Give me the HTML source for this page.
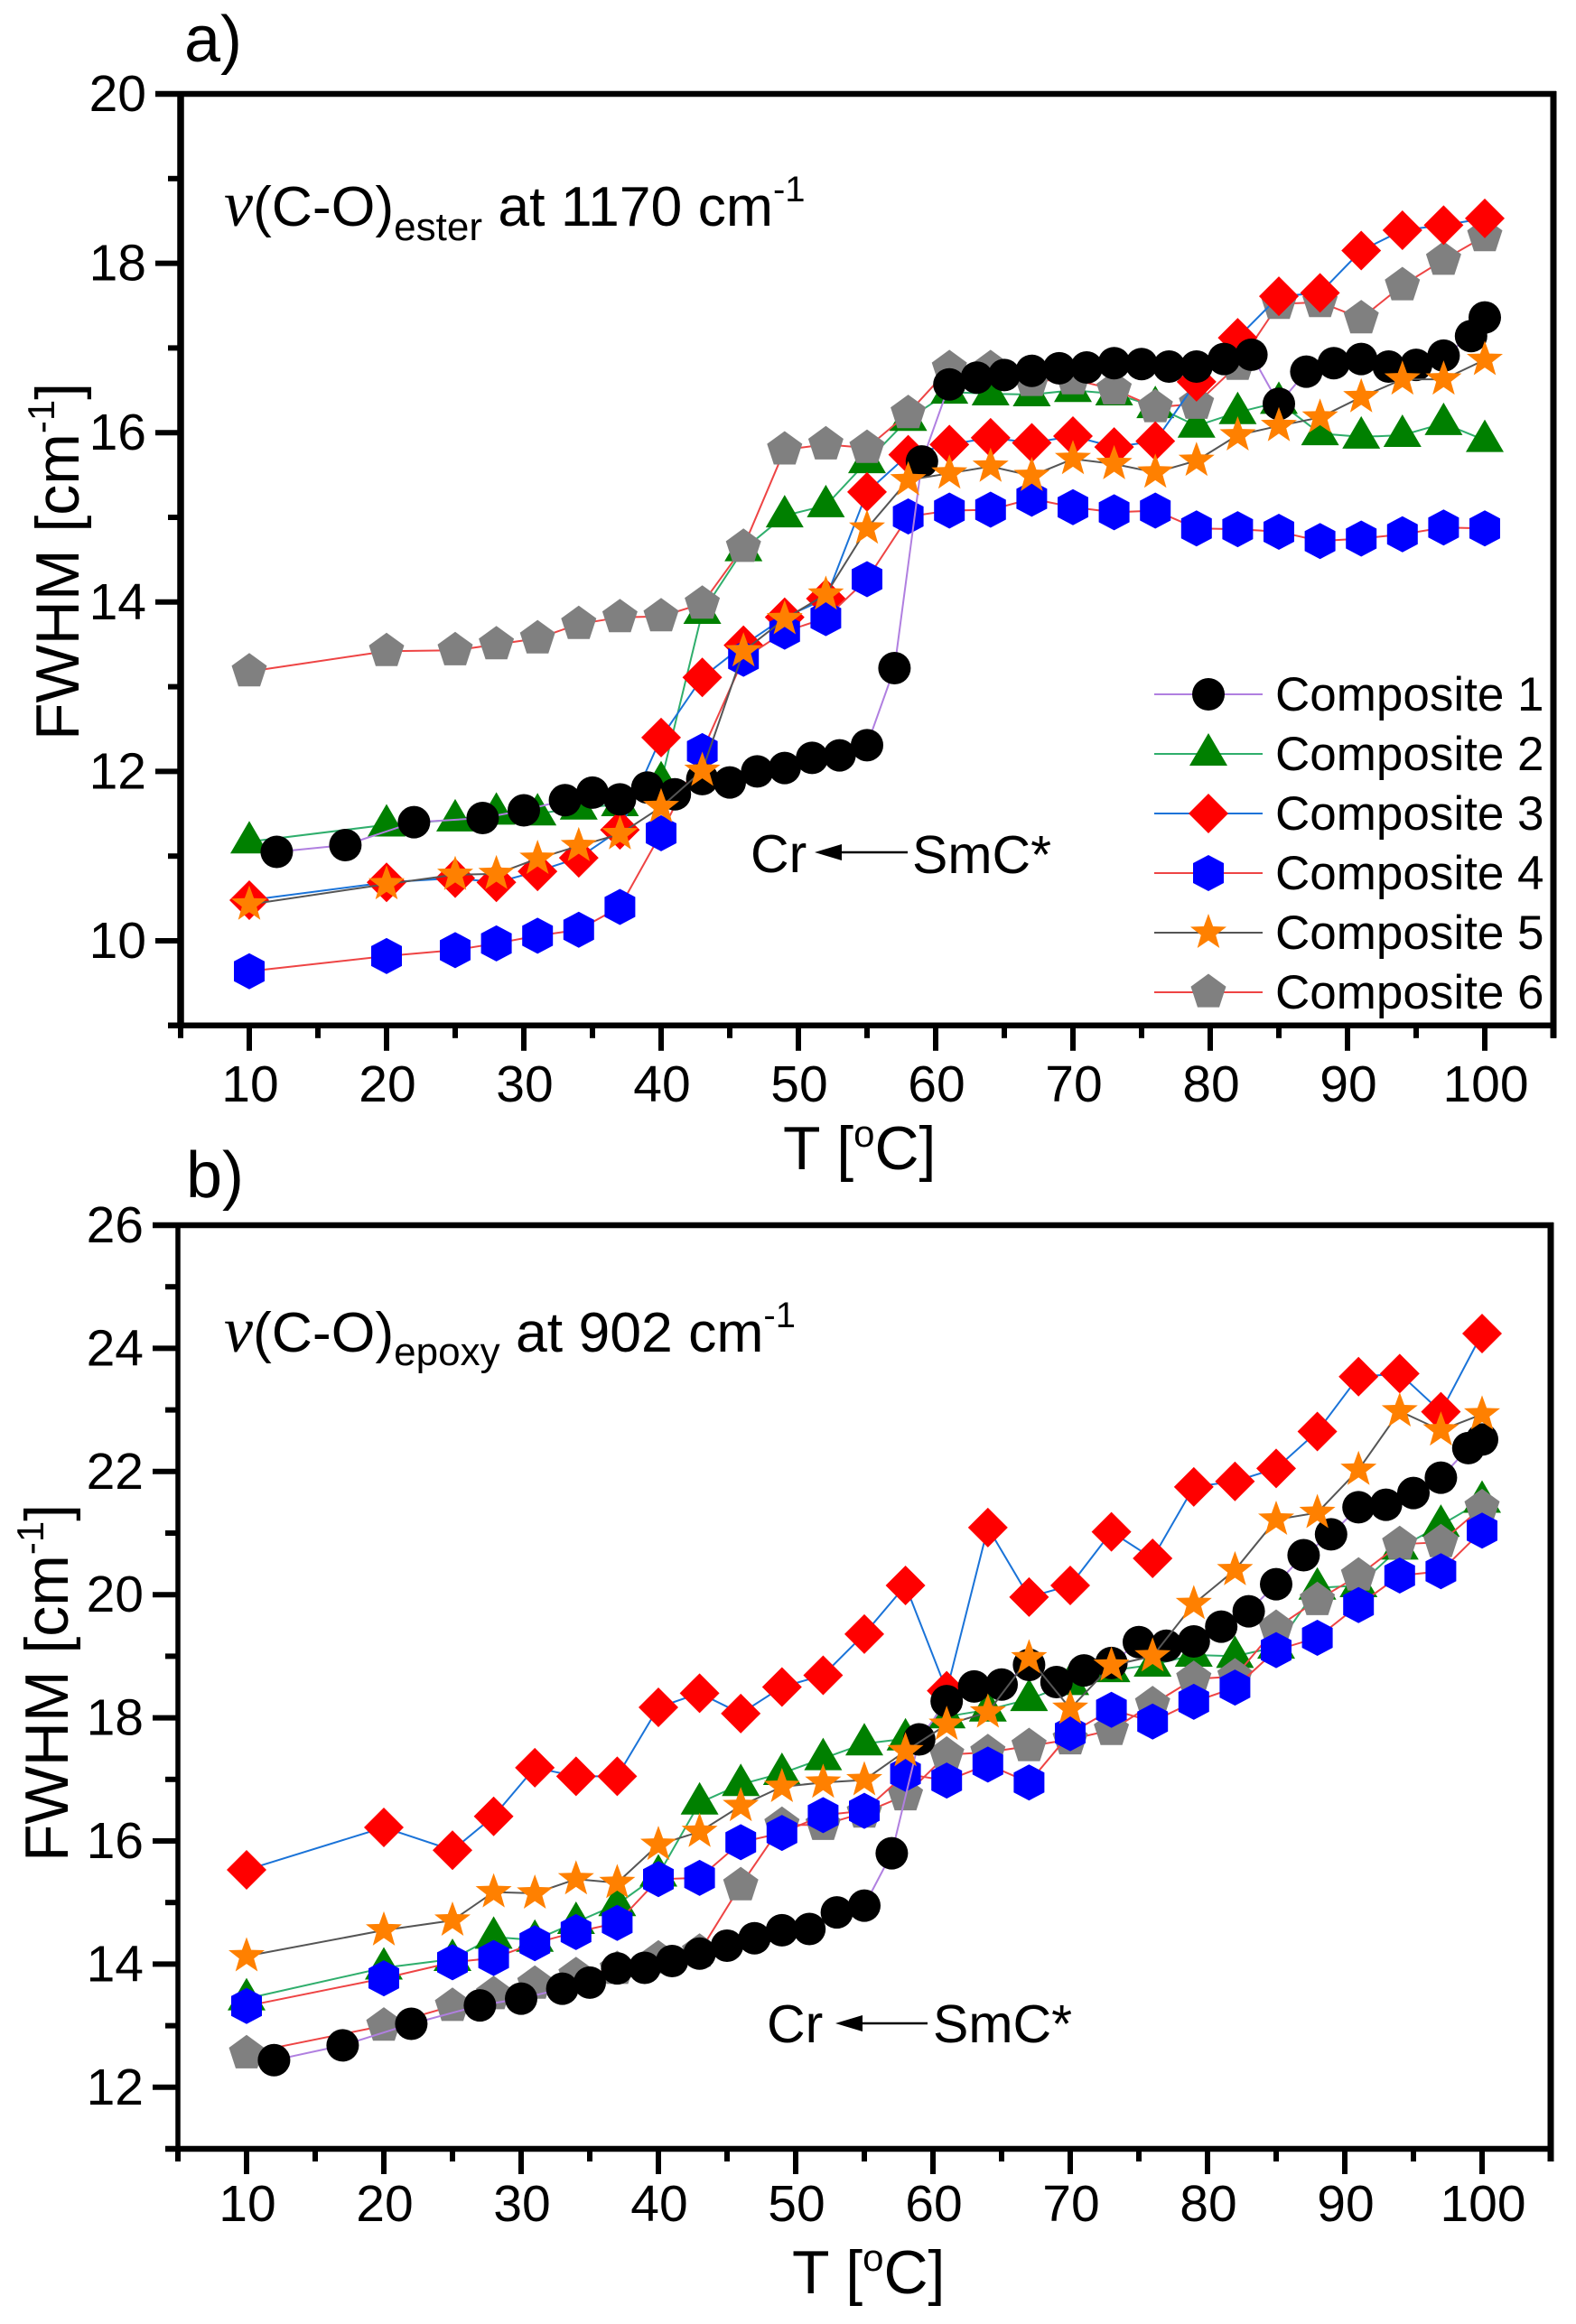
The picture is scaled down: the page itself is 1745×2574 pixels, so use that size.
<!DOCTYPE html>
<html lang="en">
<head>
<meta charset="utf-8">
<title>FWHM vs temperature for composites</title>
<style>
html,body{margin:0;padding:0;background:#fff;}
svg{display:block;}
text{font-family:"Liberation Sans",sans-serif;fill:#000;}
.nu{font-family:"Liberation Serif",serif;font-style:italic;}
</style>
</head>
<body>
<svg id="chart" xmlns="http://www.w3.org/2000/svg" width="1745" height="2574" viewBox="0 0 1745 2574">
<rect x="0" y="0" width="1745" height="2574" fill="#fff"/>
<g id="panel-a"></g>
<g id="panel-b"></g>

<text x="204" y="68" font-size="72">a)</text>
<text x="206" y="1326" font-size="72">b)</text>

<text x="248" y="250" font-size="62.5"><tspan class="nu" font-size="72">ν</tspan>(C-O)<tspan font-size="44" dy="16">ester</tspan><tspan dy="-16"> at 1170 cm</tspan><tspan font-size="40" dy="-27">-1</tspan></text>
<text x="248" y="1497" font-size="62.5"><tspan class="nu" font-size="72">ν</tspan>(C-O)<tspan font-size="44" dy="15">epoxy</tspan><tspan dy="-15"> at 902 cm</tspan><tspan font-size="40" dy="-27">-1</tspan></text>

<text x="867" y="1295" font-size="68">T [<tspan font-size="42" dy="-25">o</tspan><tspan dy="25">C]</tspan></text>
<text x="877" y="2540" font-size="68">T [<tspan font-size="42" dy="-25">o</tspan><tspan dy="25">C]</tspan></text>

<text transform="translate(87 820) rotate(-90)" font-size="68">FWHM [cm<tspan font-size="42" dy="-27">-1</tspan><tspan dy="27">]</tspan></text>
<text transform="translate(75 2062) rotate(-90)" font-size="68">FWHM [cm<tspan font-size="42" dy="-27">-1</tspan><tspan dy="27">]</tspan></text>

<text x="831" y="966" font-size="59">Cr</text>
<line x1="925" y1="944" x2="1005" y2="944" stroke="#000" stroke-width="2.5"/>
<polygon points="902,944 932,935 932,953" fill="#000"/>
<text x="1010" y="967" font-size="59">SmC*</text>

<text x="849" y="2262" font-size="59">Cr</text>
<line x1="945" y1="2241" x2="1027" y2="2241" stroke="#000" stroke-width="2.5"/>
<polygon points="925,2241 955,2232 955,2250" fill="#000"/>
<text x="1033" y="2262" font-size="59">SmC*</text>

<g id="legend"></g>
</svg>

<script>
// ---- Data: temperatures ----
var tempsMain = [10,20,25,28,31,34,37,40,43,46,49,52,55,58,61,64,67,70,73,76,79,82,85,88,91,94,97,100];
var tempsComposite1 = [12,17,22,27,30,33,35,37,39,41,43,45,47,49,51,53,55,57,59,61,63,65,67,69,71,73,75,77,79,81,83,85,87,89,91,93,95,97,99,100];

// ---- Data: panel a, FWHM of v(C-O) ester ----
var esterComposite1 = [11.05,11.13,11.40,11.45,11.54,11.66,11.75,11.67,11.81,11.73,11.91,11.87,12.00,12.04,12.16,12.19,12.31,13.22,15.66,16.57,16.65,16.68,16.73,16.76,16.77,16.82,16.81,16.78,16.78,16.87,16.92,16.34,16.72,16.82,16.87,16.78,16.80,16.91,17.14,17.36];
var esterComposite2 = [11.17,11.37,11.43,11.51,11.50,11.57,11.61,11.88,13.88,14.62,15.02,15.14,15.66,16.16,16.48,16.46,16.45,16.50,16.46,16.31,16.08,16.24,16.36,15.99,15.95,15.97,16.11,15.91];
var esterComposite3 = [10.48,10.69,10.74,10.69,10.82,10.98,11.31,12.40,13.11,13.49,13.82,14.04,15.30,15.74,15.86,15.94,15.88,15.96,15.83,15.90,16.60,17.12,17.61,17.65,18.15,18.39,18.45,18.53];
var esterComposite4 = [9.64,9.82,9.89,9.97,10.06,10.13,10.40,11.27,12.24,13.33,13.65,13.81,14.27,15.01,15.08,15.09,15.22,15.12,15.06,15.08,14.87,14.86,14.83,14.72,14.75,14.80,14.88,14.87];
var esterComposite5 = [10.43,10.67,10.78,10.79,10.97,11.12,11.26,11.58,12.01,13.42,13.80,14.09,14.87,15.44,15.52,15.60,15.49,15.69,15.63,15.53,15.67,15.97,16.08,16.18,16.42,16.63,16.63,16.86];
var esterComposite6 = [13.18,13.42,13.43,13.50,13.57,13.74,13.82,13.83,13.98,14.65,15.80,15.86,15.82,16.23,16.76,16.76,16.61,16.63,16.51,16.30,16.34,16.80,17.52,17.54,17.35,17.74,18.04,18.32];

// ---- Data: panel b, FWHM of v(C-O) epoxy ----
var epoxyComposite1 = [12.44,12.68,13.03,13.33,13.44,13.60,13.70,13.93,13.94,14.05,14.17,14.30,14.42,14.55,14.57,14.84,14.95,15.80,17.65,18.27,18.51,18.54,18.86,18.58,18.77,18.89,19.23,19.17,19.24,19.48,19.73,20.17,20.64,20.98,21.42,21.46,21.65,21.90,22.38,22.52];
var epoxyComposite2 = [13.44,13.94,14.08,14.44,14.39,14.68,14.97,15.45,16.62,16.92,17.10,17.34,17.58,17.66,18.02,18.13,18.30,18.56,18.77,18.86,19.02,19.00,19.15,20.11,20.15,20.76,21.13,21.52];
var epoxyComposite3 = [15.53,16.22,15.85,16.40,17.19,17.05,17.05,18.17,18.40,18.07,18.50,18.69,19.36,20.15,18.44,21.09,19.96,20.15,21.02,20.59,21.75,21.84,22.05,22.65,23.54,23.59,22.97,24.24];
var epoxyComposite4 = [13.32,13.77,14.03,14.10,14.34,14.52,14.67,15.38,15.40,15.98,16.13,16.42,16.49,17.09,16.98,17.24,16.95,17.75,18.13,17.94,18.26,18.49,19.10,19.30,19.83,20.31,20.38,21.04];
var epoxyComposite5 = [14.13,14.55,14.71,15.17,15.15,15.38,15.32,15.94,16.15,16.57,16.88,16.95,16.99,17.46,17.89,18.09,18.97,18.15,18.85,19.00,19.85,20.40,21.22,21.33,22.03,22.98,22.67,22.93];
var epoxyComposite6 = [12.55,13.00,13.32,13.51,13.68,13.82,13.92,14.09,14.20,15.28,16.26,16.26,16.46,16.74,17.40,17.44,17.54,17.65,17.80,18.22,18.63,18.67,19.46,19.91,20.31,20.82,20.85,21.42];

// ---- Data: tick labels and legend ----
var xMajorTicks = [10,20,30,40,50,60,70,80,90,100];
var xMinorTicks = [5,15,25,35,45,55,65,75,85,95,105];
var esterMajorTicks = [10,12,14,16,18,20];
var esterMinorTicks = [9,11,13,15,17,19];
var epoxyMajorTicks = [12,14,16,18,20,22,24,26];
var epoxyMinorTicks = [11,13,15,17,19,21,23,25];
var legendNames = ["Composite 1","Composite 2","Composite 3","Composite 4","Composite 5","Composite 6"];
var legendShapes = ["circle","triangle","diamond","hexagon","star","pentagon"];
var lineColors = ["#b07fe0","#2fae6c","#1a73d8","#ee4444","#555555","#ee4444"];
var markerColors = ["#000000","#008000","#ff0000","#0000ff","#ff8000","#808080"];

var NS = "http://www.w3.org/2000/svg";

function mk(parent, tag, attrs) {
  var el = document.createElementNS(NS, tag);
  for (var k in attrs) { el.setAttribute(k, attrs[k]); }
  parent.appendChild(el);
  return el;
}

function polyPoints(n, r, inner, cx, cy) {
  var pts = [];
  var steps = inner ? n * 2 : n;
  for (var i = 0; i < steps; i++) {
    var a = -Math.PI / 2 + i * 2 * Math.PI / steps;
    var rad = (inner && i % 2 === 1) ? inner : r;
    pts.push((cx + rad * Math.cos(a)).toFixed(1) + "," + (cy + rad * Math.sin(a)).toFixed(1));
  }
  return pts.join(" ");
}

function drawMarker(parent, shape, cx, cy, color) {
  var el;
  if (shape === "circle") {
    el = mk(parent, "circle", {cx: cx, cy: cy, r: 18, fill: color});
  } else {
    var pts;
    if (shape === "triangle") {
      pts = cx + "," + (cy - 23) + " " + (cx + 21) + "," + (cy + 13) + " " + (cx - 21) + "," + (cy + 13);
    } else if (shape === "diamond") {
      pts = cx + "," + (cy - 22) + " " + (cx + 22) + "," + cy + " " + cx + "," + (cy + 22) + " " + (cx - 22) + "," + cy;
    } else if (shape === "hexagon") {
      pts = cx + "," + (cy - 20) + " " + (cx + 17) + "," + (cy - 11) + " " + (cx + 17) + "," + (cy + 11) + " " + cx + "," + (cy + 20) + " " + (cx - 17) + "," + (cy + 11) + " " + (cx - 17) + "," + (cy - 11);
    } else if (shape === "star") {
      pts = polyPoints(5, 21, 8.6, cx, cy);
    } else {
      pts = polyPoints(5, 20.5, 0, cx, cy);
    }
    el = mk(parent, "polygon", {points: pts, fill: color});
  }
  return el;
}

function drawPanel(cfg) {
  var root = document.getElementById(cfg.id);
  function xs(t) { return cfg.left + (t - 5) * 15.2; }
  function ys(v) { return cfg.y0 + (cfg.v0 - v) * cfg.unit; }
  var bottom = ys(cfg.vMin), top = ys(cfg.v0), right = xs(105), left = cfg.left;

  // series, back to front
  var order = [1, 5, 2, 3, 0, 4];
  order.forEach(function (s) {
    var g = mk(root, "g", {});
    
    
    var temps = s === 0 ? tempsComposite1 : tempsMain;
    var vals = cfg.series[s];
    var pts = temps.map(function (t, i) { return xs(t).toFixed(1) + "," + ys(vals[i]).toFixed(1); }).join(" ");
    var line = mk(g, "polyline", {points: pts, fill: "none", stroke: lineColors[s], "stroke-width": 2});
    
    
    temps.forEach(function (t, i) {
      var m = drawMarker(g, legendShapes[s], xs(t), ys(vals[i]), markerColors[s]);
      
      
    });
  });

  // frame
  var ax = mk(root, "g", {stroke: "#000", fill: "none"});
  
  
  var lw = cfg.leftWidth;
  var leftAxis = mk(ax, "line", {x1: left, y1: top, x2: left, y2: bottom, "stroke-width": lw});
  
  
  var rightAxis = mk(ax, "line", {x1: right, y1: top - 3, x2: right, y2: bottom + 14, "stroke-width": 7});
  
  
  var topAxis = mk(ax, "line", {x1: left - 28, y1: top, x2: right + 3, y2: top, "stroke-width": 6.5});
  
  
  var bottomAxis = mk(ax, "line", {x1: left - 14, y1: bottom, x2: right + 3, y2: bottom, "stroke-width": 6.5});
  
  

  xMajorTicks.forEach(function (t) {
    var tick = mk(ax, "line", {x1: xs(t), y1: bottom, x2: xs(t), y2: bottom + 28, "stroke-width": 6});
    
    
    var label = mk(root, "text", {x: xs(t) + 1, y: cfg.xLabelY, "font-size": 57, "text-anchor": "middle"});
    
    
    label.textContent = t;
  });
  xMinorTicks.forEach(function (t) {
    var tick = mk(ax, "line", {x1: xs(t), y1: bottom, x2: xs(t), y2: bottom + 14, "stroke-width": 6});
    
    
  });
  cfg.majors.forEach(function (v) {
    var tick = mk(ax, "line", {x1: left - 28, y1: ys(v), x2: left, y2: ys(v), "stroke-width": 6});
    
    
    var label = mk(root, "text", {x: left - 38, y: ys(v) + 19, "font-size": 57, "text-anchor": "end"});
    
    
    label.textContent = v;
  });
  cfg.minors.forEach(function (v) {
    var tick = mk(ax, "line", {x1: left - 14, y1: ys(v), x2: left, y2: ys(v), "stroke-width": 6});
    
    
  });
}

drawPanel({
  id: "panel-a", left: 200, y0: 104, v0: 20, vMin: 9, unit: 93.8, leftWidth: 7.5, xLabelY: 1220,
  majors: esterMajorTicks, minors: esterMinorTicks,
  series: [esterComposite1, esterComposite2, esterComposite3, esterComposite4, esterComposite5, esterComposite6]
});
drawPanel({
  id: "panel-b", left: 197, y0: 1357, v0: 26, vMin: 11, unit: 68.2, leftWidth: 5.5, xLabelY: 2460,
  majors: epoxyMajorTicks, minors: epoxyMinorTicks,
  series: [epoxyComposite1, epoxyComposite2, epoxyComposite3, epoxyComposite4, epoxyComposite5, epoxyComposite6]
});

// legend
var legendRoot = document.getElementById("legend");
legendNames.forEach(function (name, i) {
  var rowY = 769 + i * 66;
  var row = mk(legendRoot, "g", {});
  
  
  var ln = mk(row, "line", {x1: 1278, y1: rowY, x2: 1398, y2: rowY, stroke: lineColors[i], "stroke-width": 2});
  
  
  var mark = drawMarker(row, legendShapes[i], 1338, rowY, markerColors[i]);
  
  
  var txt = mk(row, "text", {x: 1412, y: rowY + 18, "font-size": 53});
  
  
  txt.textContent = name;
});
</script>
</body>
</html>
